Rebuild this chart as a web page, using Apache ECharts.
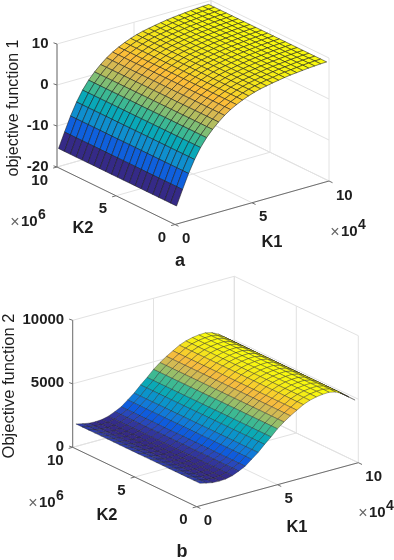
<!DOCTYPE html>
<html><head><meta charset="utf-8">
<style>html,body{margin:0;padding:0;background:#fff}#c{width:394px;height:560px}</style>
<script src="https://cdn.jsdelivr.net/npm/echarts@6/dist/echarts.min.js"></script>
</head><body><div id="c"></div>
<script>
// ---- values ----
const k1ValuesA = [0.1,0.49,0.88,1.27,1.66,2.05,2.44,2.83,3.22,3.61,4.0,4.39,4.78,5.17,5.56,5.95,6.34,6.73,7.12,7.51,7.9,8.29,8.68,9.07,9.46,9.85];
const objective1 = [-15.6,-12,-8.5,-5.5,-3,-1,0.6,2,3.2,4.2,5,5.7,6.3,6.8,7.2,7.5,7.8,8.05,8.3,8.5,8.65,8.8,8.95,9.05,9.15,9.2];
const k1ValuesB = [0.2,0.6,1.0,1.4,1.8,2.2,2.6,3.0,3.4,3.8,4.2,4.6,5.0,5.4,5.8,6.2,6.6,7.0,7.4,7.8,8.2,8.6,9.0,9.4,9.8];
const objective2 = [1770,1650,1550,1530,1560,1680,1900,2150,2550,2950,3450,3900,4400,4800,5150,5450,5750,5950,6080,6150,6170,6050,5800,5400,5000];
const k2Values = [0,0.5,1,1.5,2,2.5,3,3.5,4,4.5,5,5.5,6,6.5,7,7.5,8,8.5,9,9.5,10];
const k1Ticks = [0,5,10];
const k2Ticks = [0,5,10];
const zTicksA = [-20,-10,0,10];
const zTicksB = [0,5000,10000];
const parula = ['#352a87','#2e43b4','#0f5cdd','#1074dc','#1389d2','#059cc6','#06a7bb','#1fb2a4','#4cbc8b','#8abf6f','#bdbd5b','#e3b74d','#fdbe37','#f5d726','#f5ea18','#f9fb0e'];

// ---- layout of the two box views ----
const viewA = {o:[175,224.5],k1:[15.4,-4.35],k2:[-11.8,-5.75],zs:4.1,zMin:-20,zMax:10,zTicks:zTicksA,
  k1s:k1ValuesA,zv:objective1,title:'objective function 1',titlePos:[14,108],titleSize:16,letter:'a',letterPos:[180,261],
  e6:[15,223],e4:[335,233],k2L:[83,228],k1L:[272,242],mesh:'rgba(25,25,25,0.78)',meshW:0.7};
const viewB = {o:[196.7,506.7],k1:[16.16,-4.4],k2:[-12.4,-5.94],zs:0.0127,zMin:0,zMax:10000,zTicks:zTicksB,
  k1s:k1ValuesB,zv:objective2,title:'Objective function 2',titlePos:[9,386],titleSize:16.5,letter:'b',letterPos:[182,552],
  e6:[33,504],e4:[363,514],k2L:[107,515],k1L:[297,527],mesh:'rgba(30,30,30,0.62)',meshW:0.6};

function proj(v,a,b,z){
  return [v.o[0]+a*v.k1[0]+b*v.k2[0], v.o[1]+a*v.k1[1]+b*v.k2[1]-(z-v.zMin)*v.zs];
}
function colorOf(v,z){
  const lo=Math.min(...v.zv),hi=Math.max(...v.zv);
  const t=(z-lo)/(hi-lo)*(parula.length-1);
  const i=Math.min(parula.length-2,Math.floor(t)),f=t-i;
  const p=c=>[1,3,5].map(n=>parseInt(c.substr(n,2),16));
  const A=p(parula[i]),B=p(parula[i+1]);
  return 'rgb('+A.map((x,n)=>Math.round(x+(B[n]-x)*f)).join(',')+')';
}

// surface cells, far ones first
function cells(v){
  const out=[];
  for(let i=v.k1s.length-2;i>=0;i--) for(let j=k2Values.length-2;j>=0;j--)
    out.push([v.k1s[i],k2Values[j],v.zv[i],v.k1s[i+1],k2Values[j+1],v.zv[i+1]]);
  return out;
}
function surfaceSeries(v){
  return {type:'custom',silent:true,clip:false,animation:false,z:3,encode:{x:0,y:1},data:cells(v),
    renderItem(p,api){
      const a0=api.value(0),b0=api.value(1),z0=api.value(2),a1=api.value(3),b1=api.value(4),z1=api.value(5);
      const pts=[proj(v,a0,b0,z0),proj(v,a1,b0,z1),proj(v,a1,b1,z1),proj(v,a0,b1,z0)].map(q=>api.coord(q));
      return {type:'polygon',shape:{points:pts},style:{fill:colorOf(v,z0),stroke:v.mesh,lineWidth:v.meshW}};
    }};
}
// box lines
function segments(v){
  const zA=v.zMin,zB=v.zMax,s=[];
  const L=(p,q,k)=>s.push([p[0],p[1],q[0],q[1],k]);
  const P=(a,b,z)=>proj(v,a,b,z);
  k1Ticks.forEach(t=>{ L(P(t,10,zA),P(t,10,zB),0); L(P(t,0,zA),P(t,10,zA),0); });
  k2Ticks.forEach(t=>{ L(P(10,t,zA),P(10,t,zB),0); L(P(0,t,zA),P(10,t,zA),0); });
  v.zTicks.forEach(z=>{ L(P(0,10,z),P(10,10,z),0); L(P(10,10,z),P(10,0,z),0); });
  L(P(0,0,zA),P(10,0,zA),1); L(P(0,0,zA),P(0,10,zA),1); L(P(0,10,zA),P(0,10,zB),1);
  k1Ticks.forEach(t=>L(P(t,0,zA),P(t,-0.3,zA),1));
  k2Ticks.forEach(t=>L(P(0,t,zA),P(-0.25,t,zA),1));
  v.zTicks.forEach(z=>{const q=P(0,10,z); L(q,[q[0]-3.5,q[1]-1.2],1);});
  return s;
}
function lineSeries(v,z){
  return {type:'custom',silent:true,clip:false,animation:false,z:z,encode:{x:0,y:1},data:segments(v),
    renderItem(p,api){
      const a=api.coord([api.value(0),api.value(1)]),b=api.coord([api.value(2),api.value(3)]),k=api.value(4);
      return {type:'line',shape:{x1:a[0],y1:a[1],x2:b[0],y2:b[1]},
        style:{stroke:k?'#6f6f6f':'#e2e2e2',lineWidth:1}};
    }};
}
// all the text
const FONT='"Liberation Sans",Arial,sans-serif';
function T(x,y,text,size,align,rot,w,col){
  return {type:'text',x:x,y:y,rotation:rot||0,z:10,silent:true,
    style:{text:String(text),x:0,y:0,font:(w||'bold')+' '+size+'px '+FONT,fill:col||'#1e1e1e',align:align||'center',verticalAlign:'middle'}};
}
function texts(v){
  const g=[],zA=v.zMin;
  v.zTicks.forEach(z=>{const q=proj(v,0,10,z);g.push(T(q[0]-8.5,q[1]-0.5,z,15,'right'));});
  k1Ticks.forEach(t=>{const q=proj(v,t,0,zA);g.push(T(q[0]+7,q[1]+14.5,t,15,'left'));});
  k2Ticks.forEach(t=>{const q=proj(v,0,t,zA);g.push(T(q[0]-9,q[1]+13.5,t,15,'right'));});
  g.push(T(v.titlePos[0],v.titlePos[1],v.title,v.titleSize,'center',Math.PI/2,'normal'));
  g.push(T(v.k2L[0],v.k2L[1],'K2',16.5));
  g.push(T(v.k1L[0],v.k1L[1],'K1',16.5));
  g.push(T(v.letterPos[0],v.letterPos[1],v.letter,18));
  [[v.e6,'6'],[v.e4,'4']].forEach(([e,x])=>{
    g.push(T(e[0],e[1],'×',16,'center',0,'normal','#666'));
    g.push(T(e[0]+6,e[1]-1,'10',15,'left'));
    g.push(T(e[0]+23,e[1]-8,x,14,'left'));
  });
  return g;
}

const chart=echarts.init(document.getElementById('c'),null,{renderer:'canvas'});
chart.setOption({
  animation:false,backgroundColor:'#fff',
  grid:{left:0,right:0,top:0,bottom:0},
  xAxis:{type:'value',min:0,max:394,show:false},
  yAxis:{type:'value',min:0,max:560,inverse:true,show:false},
  graphic:{elements:texts(viewA).concat(texts(viewB))},
  series:[lineSeries(viewA,1),surfaceSeries(viewA),lineSeries(viewB,1),surfaceSeries(viewB)]
});
</script></body></html>
